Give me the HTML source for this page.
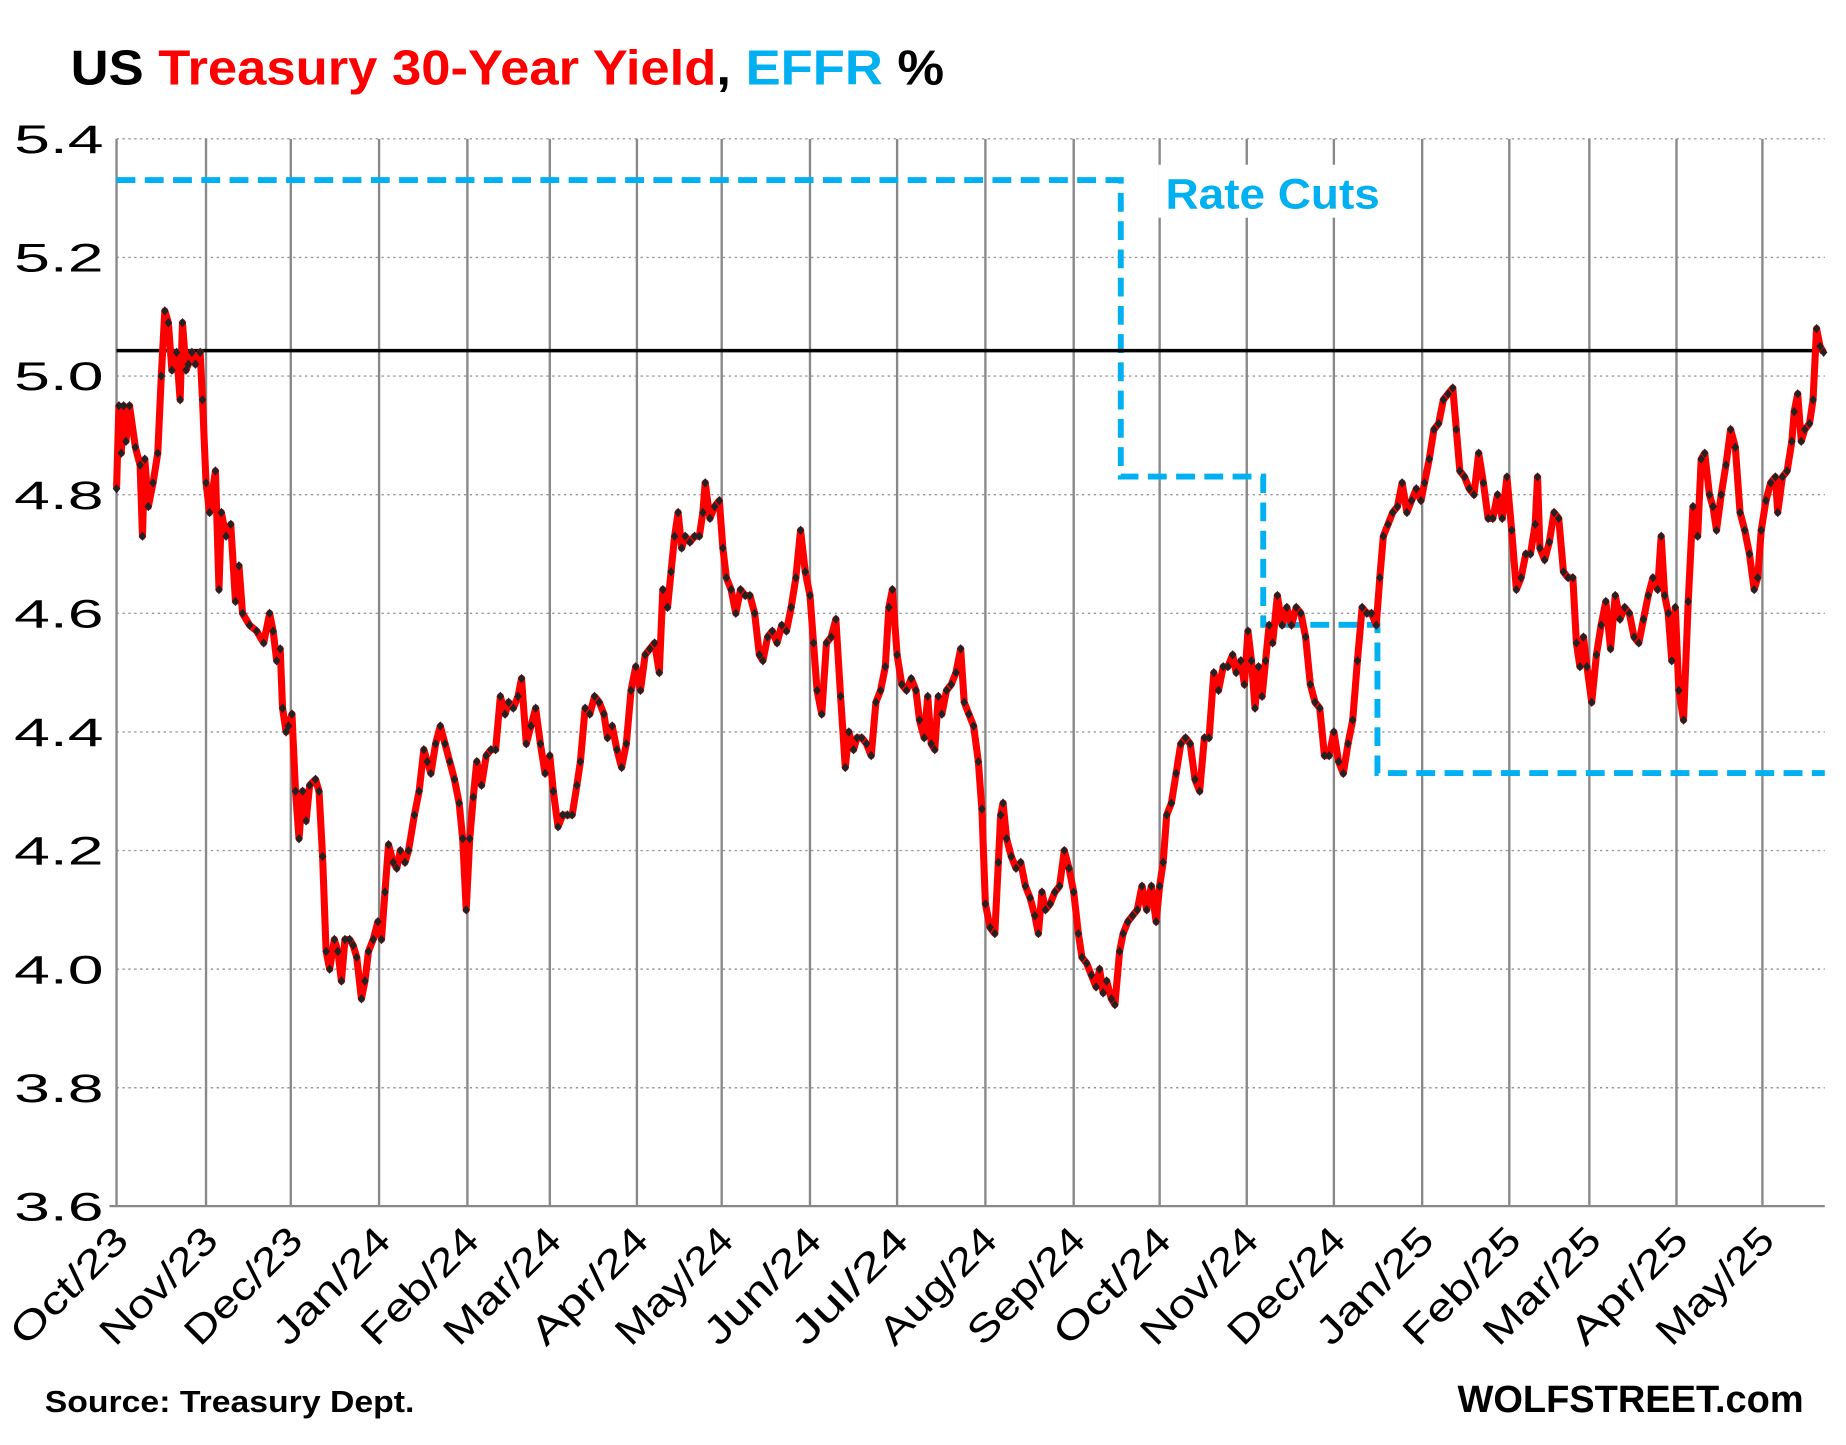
<!DOCTYPE html>
<html><head><meta charset="utf-8"><style>
html,body{margin:0;padding:0;background:#fff;}
svg{display:block;font-family:"Liberation Sans",sans-serif;}
</style></head><body>
<svg id="s" width="1846" height="1445" viewBox="0 0 1568 1228" preserveAspectRatio="none" xmlns="http://www.w3.org/2000/svg">
<rect width="1568" height="1228" fill="#fff"/>
<g id="grid"></g>
<text x="60" y="72" font-size="42" font-weight="bold" textLength="742" lengthAdjust="spacingAndGlyphs"><tspan fill="#000">US </tspan><tspan fill="#ff0000">Treasury 30-Year Yield</tspan><tspan fill="#000">, </tspan><tspan fill="#00b0f0">EFFR</tspan><tspan fill="#000"> %</tspan></text>
<rect x="984" y="140" width="195" height="45" fill="#fff"/>
<text x="990" y="177" font-size="36" font-weight="bold" fill="#00b0f0" textLength="182" lengthAdjust="spacingAndGlyphs">Rate Cuts</text>
<polyline points="99,153 952,153 952,405 1073,405 1073,531 1170,531 1170,657 1550,657" fill="none" stroke="#00b0f0" stroke-width="5" stroke-dasharray="16,8"/>
<line x1="99" y1="298" x2="1550" y2="298" stroke="#000" stroke-width="3"/>
<g id="data"></g>
<text x="38" y="1200" font-size="26" font-weight="bold" textLength="314" lengthAdjust="spacingAndGlyphs">Source: Treasury Dept.</text>
<text x="1532" y="1200" font-size="32" font-weight="bold" text-anchor="end" textLength="294" lengthAdjust="spacingAndGlyphs">WOLFSTREET.com</text>
</svg>
<script>
var NS="http://www.w3.org/2000/svg";
function el(p,t,a,txt){var e=document.createElementNS(NS,t);for(var k in a)e.setAttribute(k,a[k]);if(txt)e.textContent=txt;p.appendChild(e);return e;}
function Y(v){return 118+(5.4-v)*504;}
var g=document.getElementById('grid');
for(var i=0;i<=9;i++){var v=3.6+i*0.2,y=Y(v);
 if(i>0)el(g,'line',{x1:99,y1:y,x2:1550,y2:y,stroke:'#999','stroke-width':1.2,'stroke-dasharray':'2,3'});
 el(g,'text',{x:88,y:y+12,'font-size':34,'text-anchor':'end',fill:'#000',textLength:76,lengthAdjust:'spacingAndGlyphs'},v.toFixed(1));}
var mx=[99,175,247,322,397,467,541,613,688,762,837,912,985,1059,1133,1208,1282,1350,1424,1497];
var ml=["Oct/23","Nov/23","Dec/23","Jan/24","Feb/24","Mar/24","Apr/24","May/24","Jun/24","Jul/24","Aug/24","Sep/24","Oct/24","Nov/24","Dec/24","Jan/25","Feb/25","Mar/25","Apr/25","May/25"];
for(var i=0;i<mx.length;i++){el(g,'line',{x1:mx[i],y1:118,x2:mx[i],y2:1025,stroke:'#888','stroke-width':2});
 var tx=mx[i]+12,ty=1056;
 el(g,'text',{x:tx,y:ty,'font-size':33,'text-anchor':'end',textLength:ml[i].length*21,lengthAdjust:'spacingAndGlyphs',transform:'rotate(-45 '+tx+' '+ty+')'},ml[i]);}
el(g,'line',{x1:93,y1:1025,x2:1550,y2:1025,stroke:'#888','stroke-width':2});
var d=[99,4.81,101,4.95,103,4.87,105,4.95,107,4.89,110,4.95,115,4.88,119,4.85,121,4.73,123,4.86,126,4.78,130,4.82,134,4.87,137,5.0,140,5.11,143,5.09,146,5.01,150,5.04,153,4.96,155,5.09,158,5.01,160,5.02,163,5.04,166,5.02,170,5.04,172,4.96,175,4.82,178,4.77,183,4.84,186,4.64,188,4.77,192,4.73,196,4.75,200,4.62,203,4.68,206,4.6,212,4.58,218,4.57,224,4.55,229,4.6,232,4.57,235,4.52,238,4.54,240,4.44,243,4.40,245,4.41,248,4.43,251,4.30,254,4.22,257,4.3,260,4.25,263,4.31,268,4.32,271,4.30,274,4.19,277,4.03,280,4.0,284,4.05,287,4.03,290,3.98,293,4.05,297,4.05,300,4.04,303,4.02,307,3.95,310,3.98,313,4.03,317,4.05,321,4.08,324,4.05,327,4.13,330,4.21,334,4.18,337,4.17,340,4.2,344,4.18,347,4.2,352,4.26,356,4.3,360,4.37,363,4.35,366,4.33,370,4.38,374,4.41,378,4.38,382,4.35,386,4.32,390,4.28,393,4.22,396,4.1,399,4.22,402,4.29,405,4.35,409,4.31,413,4.36,417,4.37,421,4.37,425,4.46,429,4.43,432,4.45,436,4.44,440,4.46,443,4.49,447,4.38,451,4.41,455,4.44,459,4.38,463,4.33,467,4.36,470,4.30,474,4.24,478,4.26,482,4.26,486,4.26,490,4.31,493,4.35,497,4.44,501,4.43,505,4.46,509,4.45,513,4.43,516,4.39,520,4.41,524,4.37,528,4.34,532,4.38,536,4.47,540,4.51,544,4.47,548,4.53,552,4.54,556,4.55,560,4.50,563,4.64,567,4.61,570,4.67,573,4.73,576,4.77,579,4.71,582,4.73,586,4.72,590,4.73,594,4.73,597,4.77,599,4.82,603,4.76,607,4.78,611,4.79,614,4.71,617,4.66,621,4.64,625,4.60,629,4.64,633,4.63,637,4.63,641,4.60,645,4.53,648,4.52,652,4.56,656,4.57,660,4.55,664,4.58,668,4.57,672,4.61,676,4.66,680,4.74,684,4.67,688,4.63,691,4.55,694,4.47,698,4.43,702,4.55,706,4.56,710,4.59,714,4.46,718,4.34,721,4.40,725,4.37,728,4.39,732,4.39,736,4.38,740,4.36,744,4.45,748,4.47,752,4.51,755,4.61,758,4.64,762,4.53,766,4.48,770,4.47,774,4.49,778,4.47,781,4.42,785,4.39,788,4.46,791,4.38,794,4.37,797,4.46,800,4.43,804,4.47,808,4.48,812,4.50,816,4.54,819,4.45,823,4.43,827,4.41,831,4.35,834,4.27,837,4.11,841,4.07,845,4.06,848,4.18,850,4.26,852,4.28,855,4.22,859,4.19,863,4.17,867,4.18,871,4.14,875,4.12,879,4.09,882,4.06,885,4.13,888,4.10,892,4.11,896,4.13,900,4.14,904,4.20,908,4.17,912,4.13,916,4.06,919,4.02,923,4.01,927,3.99,931,3.97,934,4.00,937,3.96,940,3.98,944,3.95,947,3.94,951,4.03,954,4.06,958,4.08,962,4.09,966,4.10,970,4.14,974,4.10,978,4.14,982,4.08,985,4.14,988,4.18,991,4.26,995,4.28,999,4.33,1003,4.38,1007,4.39,1011,4.38,1015,4.32,1019,4.30,1023,4.39,1027,4.39,1031,4.50,1035,4.47,1039,4.51,1043,4.51,1047,4.53,1050,4.50,1054,4.52,1057,4.48,1060,4.57,1063,4.52,1066,4.44,1069,4.51,1072,4.46,1075,4.52,1078,4.58,1081,4.55,1085,4.63,1089,4.58,1093,4.61,1097,4.58,1101,4.61,1105,4.60,1109,4.56,1113,4.48,1117,4.45,1121,4.44,1125,4.36,1129,4.36,1133,4.40,1137,4.35,1141,4.33,1145,4.38,1149,4.42,1153,4.52,1157,4.61,1161,4.60,1165,4.60,1169,4.58,1172,4.66,1175,4.73,1179,4.75,1183,4.77,1187,4.78,1191,4.82,1195,4.77,1199,4.79,1203,4.81,1207,4.79,1210,4.82,1214,4.86,1218,4.91,1222,4.92,1226,4.96,1230,4.97,1234,4.98,1237,4.91,1240,4.84,1244,4.83,1248,4.81,1252,4.80,1256,4.87,1260,4.82,1264,4.76,1268,4.76,1272,4.80,1276,4.76,1280,4.83,1284,4.74,1288,4.64,1292,4.66,1296,4.70,1300,4.70,1304,4.75,1306,4.83,1308,4.71,1312,4.69,1316,4.72,1320,4.77,1324,4.76,1328,4.67,1332,4.66,1336,4.66,1339,4.55,1342,4.51,1345,4.56,1348,4.51,1352,4.45,1356,4.53,1360,4.58,1364,4.62,1368,4.54,1372,4.63,1376,4.59,1380,4.61,1384,4.60,1388,4.56,1392,4.55,1396,4.59,1400,4.63,1404,4.66,1408,4.64,1411,4.73,1414,4.63,1417,4.60,1420,4.52,1423,4.61,1426,4.47,1430,4.42,1434,4.62,1438,4.78,1442,4.73,1445,4.86,1448,4.87,1452,4.80,1455,4.78,1458,4.74,1462,4.80,1466,4.85,1470,4.91,1474,4.88,1478,4.77,1482,4.74,1486,4.70,1490,4.64,1493,4.66,1496,4.74,1500,4.79,1504,4.82,1508,4.83,1510,4.77,1514,4.83,1518,4.84,1522,4.89,1524,4.94,1527,4.97,1530,4.89,1533,4.91,1537,4.92,1540,4.96,1543,5.08,1546,5.05,1549,5.04];
var pts=[],dg=document.getElementById('data');
for(var i=0;i<d.length;i+=2)pts.push(d[i]+','+Y(d[i+1]).toFixed(1));
el(dg,'polyline',{points:pts.join(' '),fill:'none',stroke:'#ff0000','stroke-width':6,'stroke-linejoin':'round'});
for(var i=0;i<d.length;i+=2){var x=d[i],y=Y(d[i+1]);el(dg,'path',{d:'M'+x+' '+(y-4)+'L'+(x+3.2)+' '+y+'L'+x+' '+(y+4)+'L'+(x-3.2)+' '+y+'Z',fill:'#222'});}
</script>
</body></html>
